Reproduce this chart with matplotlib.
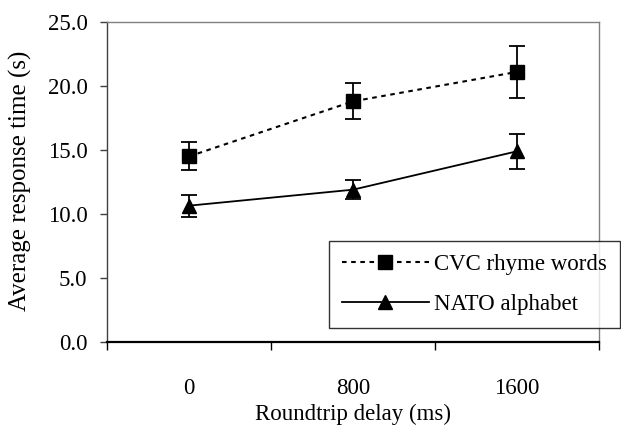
import matplotlib
matplotlib.use("Agg")
import matplotlib.pyplot as plt
from matplotlib.lines import Line2D
import numpy as np

plt.rcParams['font.family'] = ['Liberation Serif', 'DejaVu Serif']

categories = ["0", "800", "1600"]
cvc_mean = [14.5, 18.8, 21.1]
cvc_err = [1.1, 1.4, 2.0]
nato_mean = [10.65, 11.9, 14.9]
nato_err = [0.85, 0.75, 1.35]
yticks = [0.0, 5.0, 10.0, 15.0, 20.0, 25.0]

FS = 16.5

fig = plt.figure(figsize=(6.21, 4.32), dpi=100)
ax = fig.add_axes([107/621, 1-342/432, (599-107)/621, (342-22)/432])

x = np.arange(len(categories))
cvc_ls = (0, (2.2, 2.2))
ax.errorbar(x, cvc_mean, yerr=cvc_err, color='black', linestyle=cvc_ls,
            linewidth=1.5, marker='s', markersize=9.5, capsize=6, elinewidth=1.3,
            capthick=1.3)
ax.errorbar(x, nato_mean, yerr=nato_err, color='black', linestyle='-',
            linewidth=1.3, marker='^', markersize=10, capsize=6, elinewidth=1.3,
            capthick=1.3)

ax.set_xlim(-0.5, len(categories) - 0.5)
ax.set_ylim(0, 25)
ax.set_yticks(yticks)
ax.set_yticklabels([f"{v:.1f}" for v in yticks], fontsize=FS)
ax.set_xticks(x)
ax.set_xticklabels(categories, fontsize=FS)
ax.tick_params(axis='x', length=0, pad=26)
ax.set_xticks(np.arange(len(categories) + 1) - 0.5, minor=True)
ax.tick_params(axis='x', which='minor', length=6, width=1, direction='out', color='black')
ax.tick_params(axis='y', length=5, width=1, direction='out', color='#404040', pad=9)

for s in ['top', 'right']:
    ax.spines[s].set_color('#808080')
    ax.spines[s].set_linewidth(1)
ax.spines['left'].set_color('#404040')
ax.spines['left'].set_linewidth(1)
ax.spines['bottom'].set_color('black')
ax.spines['bottom'].set_linewidth(1.6)

ax.set_ylabel('Average response time (s)', fontsize=18)
ax.yaxis.set_label_coords(20/621, 0.5, transform=fig.transFigure)
ax.set_xlabel('Roundtrip delay (ms)', fontsize=FS)
ax.xaxis.set_label_coords(0.5, 1-414/432, transform=fig.transFigure)
ax.xaxis.label.set_verticalalignment('center')
ax.xaxis.label.set_x(353/621)
ax.yaxis.label.set_verticalalignment('center')
ax.yaxis.label.set_y(1-181/432)

handles = [
    Line2D([], [], color='black', linestyle=cvc_ls, linewidth=1.5, marker='s', markersize=9.5),
    Line2D([], [], color='black', linestyle='-', linewidth=1.3, marker='^', markersize=10),
]
labels = ['CVC rhyme words', 'NATO alphabet']
leg = fig.legend(handles, labels, loc='upper left',
                 bbox_to_anchor=(329/621, 1-241/432),
                 fontsize=FS, frameon=True, fancybox=False, edgecolor='black',
                 handlelength=3.8, borderpad=0.55, labelspacing=0.85, handletextpad=0.25,
                 borderaxespad=0)
leg.get_frame().set_linewidth(1)

fig.savefig('out.png', dpi=100, facecolor='white')
